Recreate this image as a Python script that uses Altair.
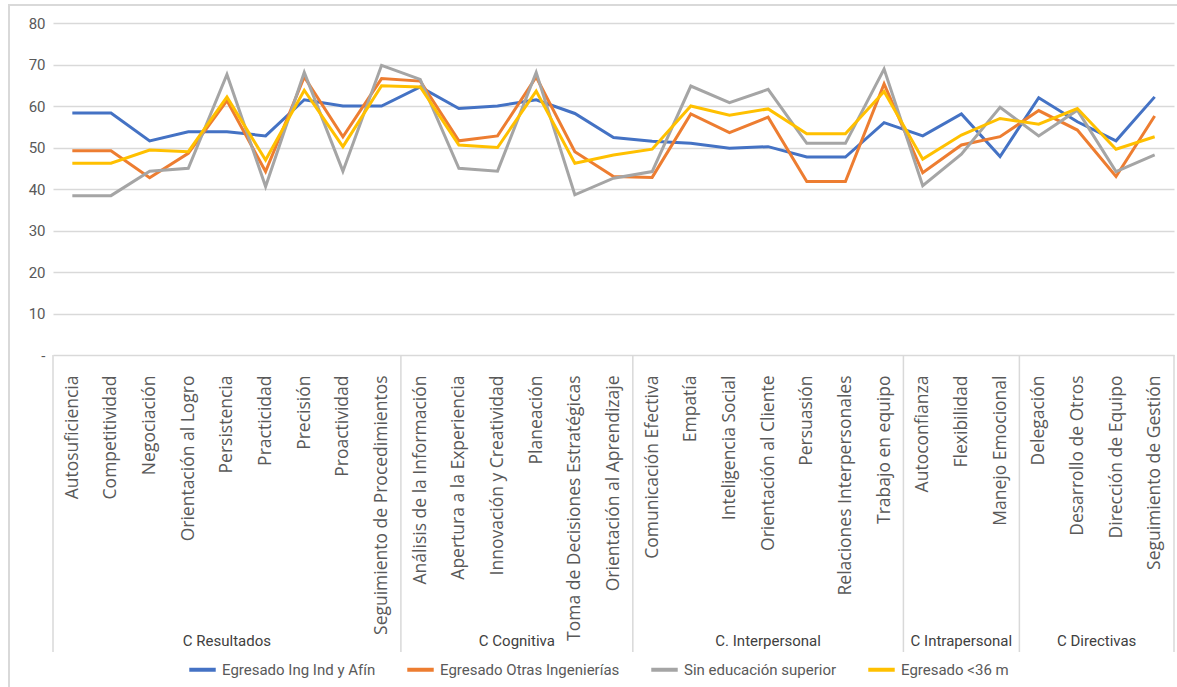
import json
import altair as alt
import pandas as pd

categories = [
    "Autosuficiencia", "Competitividad", "Negociación", "Orientación al Logro",
    "Persistencia", "Practicidad", "Precisión", "Proactividad",
    "Seguimiento de Procedimientos",
    "Análisis de la Información", "Apertura a la Experiencia",
    "Innovación y Creatividad", "Planeación", "Toma de Decisiones Estratégicas",
    "Orientación al Aprendizaje",
    "Comunicación Efectiva", "Empatía", "Inteligencia Social",
    "Orientación al Cliente", "Persuasión", "Relaciones Interpersonales",
    "Trabajo en equipo",
    "Autoconfianza", "Flexibilidad", "Manejo Emocional",
    "Delegación", "Desarrollo de Otros", "Dirección de Equipo",
    "Seguimiento de Gestión",
]
groups = ["C Resultados", "C Cognitiva", "C. Interpersonal", "C Intrapersonal", "C Directivas"]
group_sizes = [9, 6, 7, 3, 4]

series_names = ["Egresado Ing Ind y Afín", "Egresado Otras Ingenierías",
                "Sin educación superior", "Egresado <36 m"]
series_colors = ["#4472C4", "#ED7D31", "#A5A5A5", "#FFC000"]

ing_ind = [58.3, 58.3, 51.6, 53.8, 53.8, 52.8, 61.5, 60.0, 60.0,
           64.6, 59.4, 60.0, 61.5, 58.2, 52.4,
           51.5, 51.0, 49.8, 50.2, 47.7, 47.7, 56.0,
           52.8, 58.1, 47.8,
           62.0, 56.2, 51.6, 62.2]
otras_ing = [49.2, 49.2, 42.7, 48.6, 61.3, 44.2, 67.0, 52.6, 66.6,
             66.0, 51.6, 52.8, 67.0, 49.0, 43.0,
             42.8, 58.1, 53.6, 57.3, 41.8, 41.8, 65.3,
             43.9, 50.6, 52.6,
             58.9, 54.2, 43.0, 57.6]
sin_edu = [38.4, 38.4, 44.3, 45.0, 67.6, 40.6, 68.1, 44.3, 69.8,
           66.4, 45.0, 44.3, 68.1, 38.6, 42.6,
           44.2, 64.8, 60.8, 64.0, 51.0, 51.0, 68.9,
           40.8, 48.4, 59.7,
           52.8, 59.0, 44.2, 48.2]
egresado_36 = [46.2, 46.2, 49.4, 49.0, 62.2, 47.0, 63.8, 50.2, 64.9,
               64.6, 50.6, 50.0, 63.6, 46.2, 48.2,
               49.6, 60.0, 57.8, 59.3, 53.3, 53.3, 63.5,
               47.2, 53.0, 57.0,
               55.6, 59.4, 49.6, 52.6]

y_ticks = [0, 10, 20, 30, 40, 50, 60, 70, 80]

# ---- tables built from the arrays ----
rows = []
for name, vals in zip(series_names, [ing_ind, otras_ing, sin_edu, egresado_36]):
    for i, (c, v) in enumerate(zip(categories, vals)):
        rows.append({"pos": i + 0.5, "categoria": c, "serie": name, "valor": v})
df = pd.DataFrame(rows)

bounds = [0]
for s in group_sizes:
    bounds.append(bounds[-1] + s)
df_bounds = pd.DataFrame({"b": bounds})
df_groups = pd.DataFrame({
    "grupo": groups,
    "mid": [(bounds[k] + bounds[k + 1]) / 2 for k in range(len(groups))],
})

n = len(categories)
W, H = 1121, 332
NARROW = "Liberation Sans Narrow, Roboto, sans-serif"
GRID = "#d9d9d9"
TXT = "#595959"

xscale = alt.Scale(domain=[0, n], nice=False, zero=False)

lines = alt.Chart(df).mark_line(strokeWidth=3).encode(
    x=alt.X("pos:Q", scale=xscale,
            axis=alt.Axis(values=[i + 0.5 for i in range(n)],
                          labelExpr=json.dumps(categories, ensure_ascii=False) + "[floor(datum.value)]",
                          labelAngle=270, labelFont="Open Sans", labelFontSize=17.5,
                          labelColor=TXT, labelLimit=400, labelOverlap=False,
                          labelFlush=False, labelBound=False, labelPadding=20,
                          domain=False, ticks=False, grid=False, title=None)),
    y=alt.Y("valor:Q", scale=alt.Scale(domain=[0, 80], nice=False),
            axis=alt.Axis(values=y_ticks,
                          labelExpr="datum.value == 0 ? '-' : datum.label",
                          labelFont=NARROW, labelFontSize=15, labelColor=TXT,
                          labelPadding=8, domain=False, ticks=False,
                          grid=True, gridColor=GRID, gridWidth=1.5, title=None)),
    color=alt.Color("serie:N", sort=series_names,
                    scale=alt.Scale(domain=series_names, range=series_colors),
                    legend=alt.Legend(orient="none", legendX=134, legendY=631,
                                      direction="horizontal", columns=4,
                                      title=None, symbolType="stroke",
                                      symbolStrokeWidth=4, symbolSize=700,
                                      labelFont=NARROW, labelFontSize=15,
                                      labelColor=TXT, labelLimit=400,
                                      columnPadding=23, labelOffset=4)),
    order=alt.value(0),
)

dividers = alt.Chart(df_bounds).mark_rule(color=GRID, strokeWidth=1.5).encode(
    x=alt.X("b:Q", scale=xscale),
    y=alt.value(H),
    y2=alt.value(629),
)

group_text = alt.Chart(df_groups).mark_text(
    font=NARROW, fontSize=15, color="#404040", baseline="middle"
).encode(
    x=alt.X("mid:Q", scale=xscale),
    y=alt.value(618),
    text="grupo:N",
)

frame = alt.Chart(df_groups).mark_rect(
    fill="transparent", stroke=GRID, strokeWidth=1.5
).encode(
    x=alt.value(-44), x2=alt.value(W + 10),
    y=alt.value(-18), y2=alt.value(H + 360),
)

chart = alt.layer(frame, dividers, lines, group_text).properties(
    width=W, height=H,
    autosize=alt.AutoSizeParams(type="none"),
    padding={"left": 53, "top": 23, "right": 3, "bottom": 332},
).configure_view(stroke=None)

chart.save("out.html", embed_options={"renderer": "svg", "actions": False})
